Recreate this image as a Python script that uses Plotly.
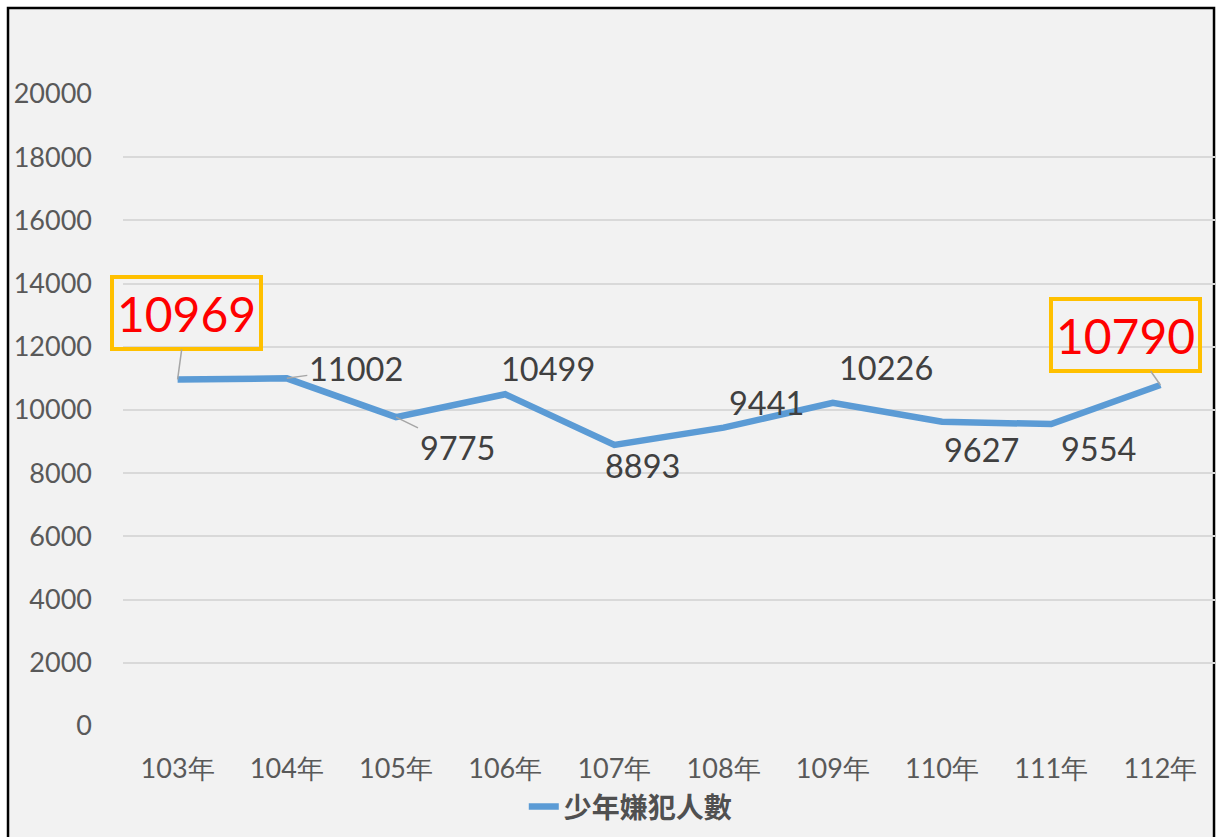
import plotly.graph_objects as go

years = ["103年", "104年", "105年", "106年", "107年", "108年", "109年", "110年", "111年", "112年"]
suspects = [10969, 11002, 9775, 10499, 8893, 9441, 10226, 9627, 9554, 10790]
y_ticks = [0, 2000, 4000, 6000, 8000, 10000, 12000, 14000, 16000, 18000, 20000]
series_name = "少年嫌犯人數"

# label placement offsets (pixels) relative to each point
label_dx = [9, 69, 61, 43, 28, 43, 53, 39, 47, -35]
label_dy = [-66, -10, 30, -26, 21, -25, -35, 28, 24, -50]
highlight = [True, False, False, False, False, False, False, False, False, True]
leader = [True, True, True, False, False, False, False, False, False, True]

fig = go.Figure()
fig.add_trace(go.Scatter(
    x=years, y=suspects, mode="lines", name=series_name,
    line=dict(color="#5b9bd5", width=6.5),
))

annotations = []
for i, (yr, v) in enumerate(zip(years, suspects)):
    if highlight[i]:
        annotations.append(dict(
            x=yr, y=v, xref="x", yref="y", text=str(v),
            showarrow=True, arrowhead=0, arrowcolor="#a6a6a6", arrowwidth=1.5,
            ax=label_dx[i], ay=label_dy[i],
            font=dict(family="Lato", size=48, color="#ff0000"),
            bordercolor="#ffc000", borderwidth=4, borderpad=2,
            width=141, height=64,
        ))
    elif leader[i]:
        annotations.append(dict(
            x=yr, y=v, xref="x", yref="y", text=str(v),
            showarrow=True, arrowhead=0, arrowcolor="#a6a6a6", arrowwidth=1.5,
            ax=label_dx[i], ay=label_dy[i],
            font=dict(family="Lato", size=32.5, color="#404040"),
        ))
    else:
        annotations.append(dict(
            x=yr, y=v, xref="x", yref="y", text=str(v),
            showarrow=False, xshift=label_dx[i], yshift=-label_dy[i],
            font=dict(family="Lato", size=32.5, color="#404040"),
        ))

fig.update_layout(
    width=1218, height=837,
    margin=dict(l=123, r=3, t=94, b=111),
    paper_bgcolor="white",
    plot_bgcolor="rgba(0,0,0,0)",
    showlegend=True,
    legend=dict(orientation="h", x=0.465, xanchor="center", y=-0.128, yanchor="middle",
                font=dict(family="Noto Sans CJK TC", size=28, color="#505050", weight="bold"),
                bgcolor="rgba(0,0,0,0)"),
    xaxis=dict(type="category", range=[-0.5, 9.5], showgrid=False, showline=False, zeroline=False,
               tickfont=dict(family="Lato", size=27, color="#595959"), automargin=False,
               ticks="", ticklabelstandoff=24, fixedrange=True),
    yaxis=dict(range=[0, 20000], tickvals=y_ticks, ticktext=[str(t) for t in y_ticks],
               showgrid=True, gridcolor="#d9d9d9", automargin=False,
               gridwidth=1.5, zeroline=False, showline=False,
               tickfont=dict(family="Lato", size=27, color="#595959"),
               ticks="", ticklabelstandoff=30, fixedrange=True),
    annotations=annotations,
    shapes=[dict(type="rect", xref="paper", yref="paper",
                 x0=-0.1053, x1=0.9991, y0=-0.2, y1=1.136,
                 line=dict(color="black", width=2.5), fillcolor="#f2f2f2", layer="below")],
)

fig.write_html("out.html", config={"displayModeBar": False},
               post_script="document.body.style.margin='0';document.body.style.overflow='hidden';")
